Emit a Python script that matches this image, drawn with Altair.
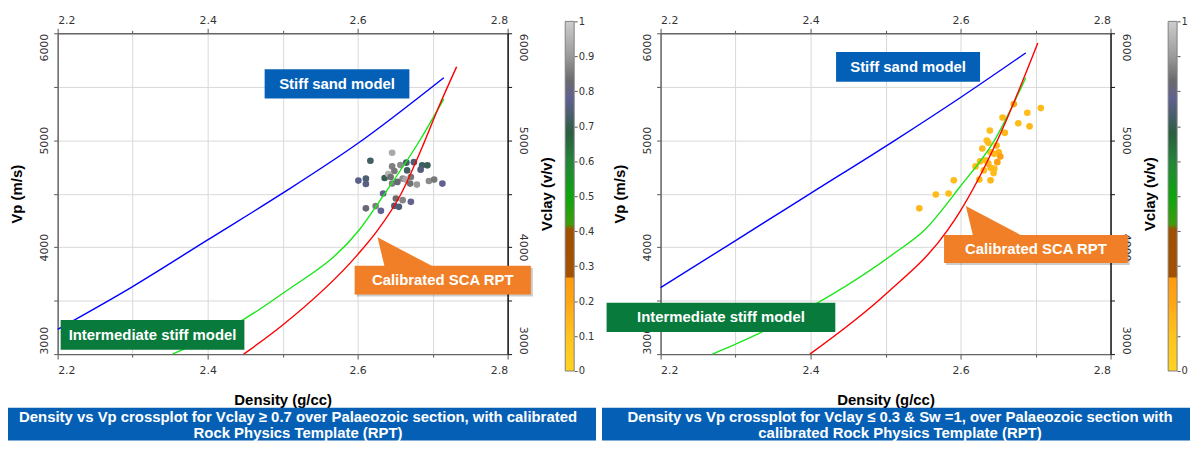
import altair as alt
import pandas as pd

# ---------------- data ----------------
# Left panel: samples with Vclay >= 0.7
L_DENSITY = [2.646, 2.617, 2.601, 2.611, 2.611, 2.636, 2.641, 2.646, 2.657, 2.665, 2.675, 2.686,
             2.693, 2.684, 2.649, 2.666, 2.660, 2.671, 2.646, 2.653, 2.664, 2.670, 2.679, 2.695,
             2.702, 2.713, 2.634, 2.651, 2.660, 2.671, 2.624, 2.631, 2.611, 2.649, 2.655, 2.644]
L_VP = [4883, 4808, 4623, 4641, 4591, 4647, 4684, 4755, 4768, 4790, 4795, 4765,
        4765, 4725, 4712, 4718, 4641, 4656, 4595, 4610, 4632, 4595, 4585, 4619,
        4632, 4595, 4502, 4455, 4440, 4424, 4384, 4340, 4363, 4387, 4377, 4656]
L_VCLAY = [0.93, 0.72, 0.77, 0.74, 0.76, 0.70, 0.95, 0.86, 0.88, 0.73, 0.74, 0.72,
           0.71, 0.75, 0.85, 0.72, 0.88, 0.85, 0.86, 0.82, 0.93, 0.84, 0.90, 0.88,
           0.85, 0.78, 0.78, 0.83, 0.87, 0.79, 0.86, 0.78, 0.82, 0.75, 0.74, 0.84]

# Right panel: samples with Vclay <= 0.3 & Sw = 1
R_DENSITY = [2.707, 2.689, 2.692, 2.677, 2.656, 2.671, 2.639, 2.659, 2.635, 2.637, 2.629, 2.648,
             2.640, 2.645, 2.651, 2.653, 2.626, 2.634, 2.637, 2.649, 2.620, 2.631, 2.640, 2.645,
             2.644, 2.625, 2.640, 2.591, 2.584, 2.567, 2.545]
R_VP = [5301, 5257, 5130, 5159, 5212, 5338, 5090, 5069, 4997, 4976, 4923, 4950,
        4888, 4873, 4888, 4848, 4802, 4811, 4781, 4795, 4755, 4718, 4743, 4734,
        4693, 4632, 4625, 4625, 4502, 4493, 4363]
R_VCLAY = [0.13, 0.12, 0.14, 0.13, 0.13, 0.20, 0.12, 0.14, 0.12, 0.13, 0.14, 0.13,
           0.12, 0.13, 0.15, 0.23, 0.13, 0.12, 0.14, 0.22, 0.13, 0.12, 0.14, 0.13,
           0.13, 0.12, 0.14, 0.13, 0.12, 0.13, 0.14]

# Rock physics template curves (density g/cc, Vp m/s)
L_BLUE_D = [2.2, 2.3, 2.4, 2.5, 2.6, 2.715]
L_BLUE_VP = [3232, 3632, 4068, 4505, 4969, 5585]
L_GREEN_D = [2.353, 2.448, 2.498, 2.602, 2.636, 2.683, 2.715]
L_GREEN_VP = [3000, 3325, 3557, 4161, 4500, 5000, 5387]
L_RED_D = [2.448, 2.498, 2.600, 2.627, 2.658, 2.688, 2.706, 2.732]
L_RED_VP = [3000, 3260, 3930, 4161, 4500, 4966, 5276, 5687]

R_BLUE_D = [2.2, 2.3, 2.4, 2.512, 2.6, 2.687]
R_BLUE_VP = [3622, 4062, 4503, 4997, 5400, 5817]
R_GREEN_D = [2.269, 2.300, 2.512, 2.552, 2.599, 2.645, 2.687]
R_GREEN_VP = [3000, 3093, 3945, 4161, 4563, 4997, 5585]
R_RED_D = [2.399, 2.500, 2.583, 2.599, 2.649, 2.703]
R_RED_VP = [3000, 3560, 4161, 4330, 4997, 5910]

MODEL_NAMES = ["Stiff sand", "Intermediate stiff", "Calibrated SCA"]
MODEL_COLORS = ["#0000FF", "#19E619", "#FF0000"]

# Annotation boxes (data coordinates)
BOX_TEXT = ["Stiff sand model", "Intermediate stiff model", "Calibrated SCA RPT"]
BOX_COLORS = ["#0460B6", "#087A3C", "#F07F27"]
L_BOX_D1 = [2.476, 2.204, 2.596]
L_BOX_D2 = [2.669, 2.449, 2.831]
L_BOX_VP1 = [5663, 3319, 3827]
L_BOX_VP2 = [5390, 3040, 3557]
R_BOX_D1 = [2.434, 2.128, 2.578]
R_BOX_D2 = [2.626, 2.433, 2.823]
R_BOX_VP1 = [5824, 3480, 4115]
R_BOX_VP2 = [5548, 3207, 3852]
L_TIP = [2.6265, 4093]
R_TIP = [2.6071, 4384]

L_CAPTION = ["Density vs Vp crossplot for Vclay \u2265 0.7 over Palaeozoic section, with calibrated",
             "Rock Physics Template (RPT)"]
R_CAPTION = ["Density vs Vp crossplot for Vclay \u2264 0.3 & Sw =1, over Palaeozoic section with",
             "calibrated Rock Physics Template (RPT)"]

# Vclay colour scale
C_STOPS = [0.0, 0.1, 0.2, 0.265, 0.27, 0.405, 0.42, 0.5, 0.6, 0.68, 0.74, 0.78, 0.83, 0.9, 1.0]
C_COLORS = ["#FFD321", "#FFC41D", "#FFA514", "#FF9B10", "#A55000", "#A05000", "#3E9C0C",
            "#0CA60C", "#24843A", "#2A5E3E", "#4D5F72", "#606092", "#6A6A6E", "#9A9A9A", "#CDCDCD"]

X_TICKS = [2.2, 2.3, 2.4, 2.5, 2.6, 2.7, 2.8]
Y_TICKS = [3000, 3500, 4000, 4500, 5000, 5500, 6000]
CB_TICKS = [0, 0.1, 0.2, 0.3, 0.4, 0.5, 0.6, 0.7, 0.8, 0.9, 1]

# ---------------- styling ----------------
W, H = 453, 323
LABEL_FONT = "DejaVu Sans"
TITLE_FONT = "Liberation Sans"
CAPTION_BLUE = "#0560B5"
ORANGE = BOX_COLORS[2]

MAJOR_X = "round(datum.value * 10) % 2 == 0"
X_LABEL = MAJOR_X + " ? format(datum.value, '.1f') : ''"
MAJOR_Y = "datum.value % 1000 == 0"
Y_LABEL = MAJOR_Y + " ? format(datum.value, 'd') : ''"

common = dict(labelFont=LABEL_FONT, labelFontSize=11, labelColor="#333333", labelOverlap=False,
              titleFont=TITLE_FONT, titleFontSize=15, titleFontWeight="bold", titleColor="#000000")

BOTTOM = alt.Axis(orient="bottom", values=X_TICKS, labelExpr=X_LABEL, labelFlush=True,
                  tickSize={"condition": {"test": MAJOR_X, "value": 5}, "value": 3},
                  tickColor="#555555", domainColor="#666666", domainWidth=1.5,
                  grid=True, gridColor="#D9D9D9", gridWidth=1, labelPadding=6,
                  title="Density (g/cc)", titleY=51, titleBaseline="alphabetic", **common)
TOP = alt.Axis(orient="top", values=X_TICKS, labelExpr=X_LABEL, labelFlush=True,
               tickSize={"condition": {"test": MAJOR_X, "value": 5}, "value": 3},
               labelBaseline="alphabetic", labelPadding=5,
               tickColor="#555555", domainColor="#666666", domainWidth=1.5,
               grid=False, title=None, **common)
LEFT = alt.Axis(orient="left", values=Y_TICKS, labelExpr=Y_LABEL, labelAngle=270,
                labelAlign={"condition": [{"test": "datum.value == 6000", "value": "right"},
                                          {"test": "datum.value == 3000", "value": "left"}],
                            "value": "center"},
                labelBaseline="alphabetic", tickSize=4, labelPadding=6.5,
                tickColor="#555555", domainColor="#666666", domainWidth=1.5,
                grid=True, gridColor="#D9D9D9", gridWidth=1,
                title="Vp (m/s)", titleAngle=270, titleX=-36, titleBaseline="alphabetic", **common)
RIGHT = alt.Axis(orient="right", values=Y_TICKS, labelExpr=Y_LABEL, labelAngle=90,
                 labelAlign={"condition": [{"test": "datum.value == 6000", "value": "left"},
                                           {"test": "datum.value == 3000", "value": "right"}],
                             "value": "center"},
                 labelBaseline="alphabetic", tickSize=4, labelPadding=8,
                 tickColor="#111111", domainColor="#111111", domainWidth=1.5, grid=False,
                 title="Vclay (v/v)", titleAngle=270, titleX=44, titleBaseline="alphabetic", **common)


def cbar_axis(all_labels):
    expr = "format(datum.value, '~g')" if all_labels else \
        "(datum.value == 0 || datum.value == 1) ? format(datum.value, '~g') : ''"
    return alt.Axis(orient="right", offset=67, values=CB_TICKS, labelExpr=expr, tickSize=3,
                    tickColor="#555555", domain=False, grid=False, labelFont=LABEL_FONT,
                    labelFontSize=10, labelColor="#333333", labelPadding=1, labelBaseline="middle",
                    labelAlign="left", labelOverlap=False, labelFlush=False, title=None)


GRAD = alt.LinearGradient(gradient="linear",
                          stops=[alt.GradientStop(color=c, offset=o) for o, c in zip(C_STOPS, C_COLORS)],
                          x1=0, x2=0, y1=1, y2=0)
TRI = "M0,0L0.233,0.967L1.833,0.967Z"

CAP_TOP, CAP_BOTTOM = 377, 410
CAP_LINES_Y = [391.5, 407]


def panel(dens, vp, vclay, curves, box_d1, box_d2, box_v1, box_v2, tip, caption,
          cap_x0, cap_x1, cap_cx, all_cb_labels):
    xs = alt.Scale(domain=[2.2, 2.8], nice=False, zero=False)
    ys = alt.Scale(domain=[3000, 6000], nice=False, zero=False)

    def X(f):
        return alt.X(f, type="quantitative", scale=xs, axis=BOTTOM)

    def Y(f):
        return alt.Y(f, type="quantitative", scale=ys, axis=LEFT)

    one = pd.DataFrame({"k": [0]})
    frame = alt.Chart(one).mark_rect(opacity=0).encode(
        x=alt.value(cap_x0), x2=alt.value(cap_x1), y=alt.value(-24), y2=alt.value(CAP_BOTTOM))
    cap_rect = alt.Chart(one).mark_rect(color=CAPTION_BLUE).encode(
        x=alt.value(cap_x0), x2=alt.value(cap_x1), y=alt.value(CAP_TOP), y2=alt.value(CAP_BOTTOM))
    cap_layers = []
    for line, yy in zip(caption, CAP_LINES_Y):
        cap_layers.append(alt.Chart(pd.DataFrame({"t": [line]})).mark_text(
            font=TITLE_FONT, fontSize=15, fontWeight="bold", color="white",
            align="center", baseline="alphabetic").encode(
            x=alt.value(cap_cx), y=alt.value(yy), text="t:N"))

    pts_df = pd.DataFrame({"d": dens, "vp": vp, "vclay": vclay})
    pts = alt.Chart(pts_df).mark_circle(size=45, opacity=1).encode(
        x=X("d"), y=Y("vp"),
        fill=alt.Fill("vclay:Q", scale=alt.Scale(domain=C_STOPS, range=C_COLORS, interpolate="rgb"),
                      legend=None))

    rows = []
    for name, (cd, cv) in zip(MODEL_NAMES, curves):
        for i, (a, b) in enumerate(zip(cd, cv)):
            rows.append({"model": name, "i": i, "d": a, "vp": b})
    lines = alt.Chart(pd.DataFrame(rows)).mark_line(strokeWidth=1.4, interpolate="monotone").encode(
        x=X("d"), y=Y("vp"),
        stroke=alt.Stroke("model:N", scale=alt.Scale(domain=MODEL_NAMES, range=MODEL_COLORS), legend=None),
        order=alt.Order("i:Q"))

    box_df = pd.DataFrame({"d1": box_d1, "d2": box_d2, "vp1": box_v1, "vp2": box_v2,
                           "color": BOX_COLORS, "text": BOX_TEXT})
    box_df["cx"] = (box_df["d1"] + box_df["d2"]) / 2
    box_df["cy"] = (box_df["vp1"] + box_df["vp2"]) / 2

    shadow = alt.Chart(box_df.iloc[[2]]).mark_rect(
        color="#000000", opacity=0.2, xOffset=2, x2Offset=2, yOffset=2, y2Offset=2).encode(
        x=X("d1"), x2="d2", y=Y("vp1"), y2="vp2")
    tri = alt.Chart(pd.DataFrame({"d": [tip[0]], "vp": [tip[1]]})).mark_point(
        shape=TRI, size=3600, filled=True, color=ORANGE, opacity=1, strokeWidth=0).encode(
        x=X("d"), y=Y("vp"))
    rects = alt.Chart(box_df).mark_rect().encode(
        x=X("d1"), x2="d2", y=Y("vp1"), y2="vp2", color=alt.Color("color:N", scale=None))
    texts = alt.Chart(box_df).mark_text(font=TITLE_FONT, fontSize=15, fontWeight="bold",
                                        color="white", align="center", baseline="middle").encode(
        x=X("cx"), y=Y("cy"), text="text:N")

    main = alt.layer(frame, cap_rect, *cap_layers, pts, lines, shadow, tri, rects, texts)

    axes2 = alt.Chart(pts_df).mark_point(opacity=0).encode(
        x=alt.X("d:Q", scale=xs, axis=TOP), y=alt.Y("vp:Q", scale=ys, axis=RIGHT))

    cbar = alt.Chart(pd.DataFrame({"lo": [0.0], "hi": [1.0]})).mark_rect(
        fill=GRAD, stroke="#7F7F7F", strokeWidth=1).encode(
        x=alt.value(511), x2=alt.value(520),
        y=alt.Y("hi:Q", scale=alt.Scale(domain=[0, 1], range=[340, -12], nice=False, zero=False),
                axis=cbar_axis(all_cb_labels)),
        y2=alt.Y2("lo:Q"))

    return alt.layer(main, axes2, cbar).resolve_scale(y="independent").resolve_axis(
        x="independent", y="independent").properties(width=W, height=H)


p1 = panel(L_DENSITY, L_VP, L_VCLAY,
           [(L_BLUE_D, L_BLUE_VP), (L_GREEN_D, L_GREEN_VP), (L_RED_D, L_RED_VP)],
           L_BOX_D1, L_BOX_D2, L_BOX_VP1, L_BOX_VP2, L_TIP, L_CAPTION, -50, 542, 242, True)
p2 = panel(R_DENSITY, R_VP, R_VCLAY,
           [(R_BLUE_D, R_BLUE_VP), (R_GREEN_D, R_GREEN_VP), (R_RED_D, R_RED_VP)],
           R_BOX_D1, R_BOX_D2, R_BOX_VP1, R_BOX_VP2, R_TIP, R_CAPTION, -59, 533, 241, False)

chart = alt.hconcat(p1, p2, spacing=6).resolve_scale(
    x="independent", y="independent", fill="independent", stroke="independent").properties(
    padding=0, background="white").configure_view(stroke=None)

chart.save("out.html", embed_options={"renderer": "svg", "actions": False})
